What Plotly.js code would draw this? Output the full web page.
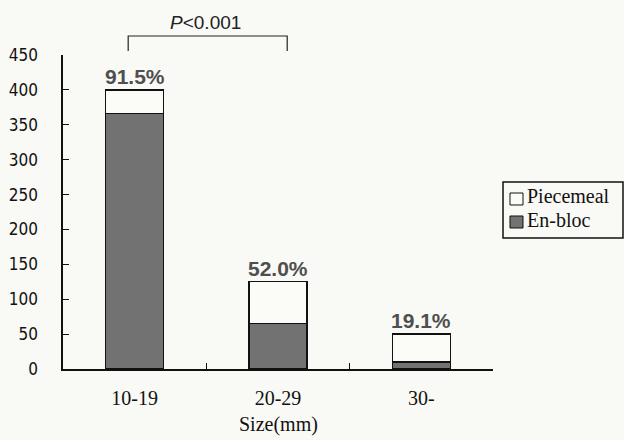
<!DOCTYPE html>
<html>
<head>
<meta charset="utf-8">
<script src="https://cdn.plot.ly/plotly-3.0.1.min.js"></script>
<style>html,body{margin:0;padding:0;background:#f9f9f5;}</style>
</head>
<body>
<div id="chart" style="width:624px;height:440px;"></div>
<script>
const categories = ["10-19", "20-29", "30-"];
const enbloc = [366, 65, 10];
const piecemeal = [34, 60, 40];
const pctLabels = ["91.5%", "52.0%", "19.1%"];
const yTicks = [0, 50, 100, 150, 200, 250, 300, 350, 400, 450];
const seriesNames = ["Piecemeal", "En-bloc"];
const seriesColors = ["#fbfbf8", "#727272"];
const xTitle = "Size(mm)";
const pText = "<i>P</i><0.001";

const totals = categories.map((c, i) => enbloc[i] + piecemeal[i]);
const serif = "Liberation Serif, Times New Roman, serif";

const traces = [
  {type: "bar", name: seriesNames[1], x: categories, y: enbloc, showlegend: false,
   marker: {color: seriesColors[1], line: {color: "#111", width: 1.3}}, width: 0.405},
  {type: "bar", name: seriesNames[0], x: categories, y: piecemeal, showlegend: false,
   marker: {color: seriesColors[0], line: {color: "#111", width: 1.3}}, width: 0.405}
];

const annotations = categories.map((c, i) => ({
  x: c, y: totals[i], xref: "x", yref: "y", text: "<b>" + pctLabels[i] + "</b>",
  showarrow: false, yanchor: "bottom", yshift: 0,
  font: {family: "Liberation Sans, Arial", size: 21, color: "#4f4f4f"}
}));
annotations.push({
  xref: "paper", yref: "paper", x: 0.331, y: 1.105, xanchor: "center", yanchor: "middle",
  text: pText, showarrow: false,
  font: {family: "Liberation Sans, Arial", size: 19, color: "#222"}
});
annotations.push({
  xref: "paper", yref: "paper", x: 0.5, y: -0.178, xanchor: "center", yanchor: "middle",
  text: xTitle, showarrow: false, font: {family: serif, size: 20, color: "#111"}
});

// manual legend
const legendRows = [0.551, 0.4745];
const swatchRows = [[0.5223, 0.5605], [0.4490, 0.4873]];
const shapes = [
  {type: "path", xref: "paper", yref: "paper",
   path: "M 0.1516 1.013 L 0.1516 1.0605 L 0.5214 1.0605 L 0.5214 1.013",
   line: {color: "#222", width: 1.2}},
  {type: "rect", xref: "paper", yref: "paper", x0: 1.0233, x1: 1.3023, y0: 0.4172, y1: 0.5955,
   line: {color: "#111", width: 1.5}, fillcolor: "rgba(0,0,0,0)"}
];
seriesNames.forEach((n, i) => {
  shapes.push({type: "rect", xref: "paper", yref: "paper", x0: 1.0395, x1: 1.0698,
    y0: swatchRows[i][0], y1: swatchRows[i][1], line: {color: "#111", width: 1}, fillcolor: seriesColors[i]});
  annotations.push({xref: "paper", yref: "paper", x: 1.074, y: legendRows[i], xanchor: "left", yanchor: "middle",
    text: n, showarrow: false, font: {family: serif, size: 20, color: "#111"}});
});

const layout = {
  width: 624, height: 440,
  margin: {l: 63, r: 131, t: 55, b: 71},
  paper_bgcolor: "#f9f9f5", plot_bgcolor: "rgba(0,0,0,0)",
  barmode: "stack", showlegend: false,
  xaxis: {
    type: "category", showline: true, linecolor: "#111", linewidth: 1.6,
    ticks: "inside", tickson: "boundaries", ticklen: 6, tickcolor: "#111",
    tickfont: {family: serif, size: 20, color: "#111"}, ticklabelstandoff: 10,
    showgrid: false, zeroline: false, range: [-0.5, 2.5], automargin: false
  },
  yaxis: {
    range: [0, 450], tickvals: yTicks, showline: true, linecolor: "#111", linewidth: 1.6,
    ticks: "inside", ticklen: 6, tickcolor: "#111", showgrid: false, zeroline: false,
    tickfont: {family: "DejaVu Sans Condensed, DejaVu Sans, sans-serif", size: 17, color: "#111"},
    ticklabelstandoff: 20, automargin: false
  },
  shapes: shapes,
  annotations: annotations
};

Plotly.newPlot("chart", traces, layout, {displayModeBar: false, staticPlot: true});
</script>
</body>
</html>
